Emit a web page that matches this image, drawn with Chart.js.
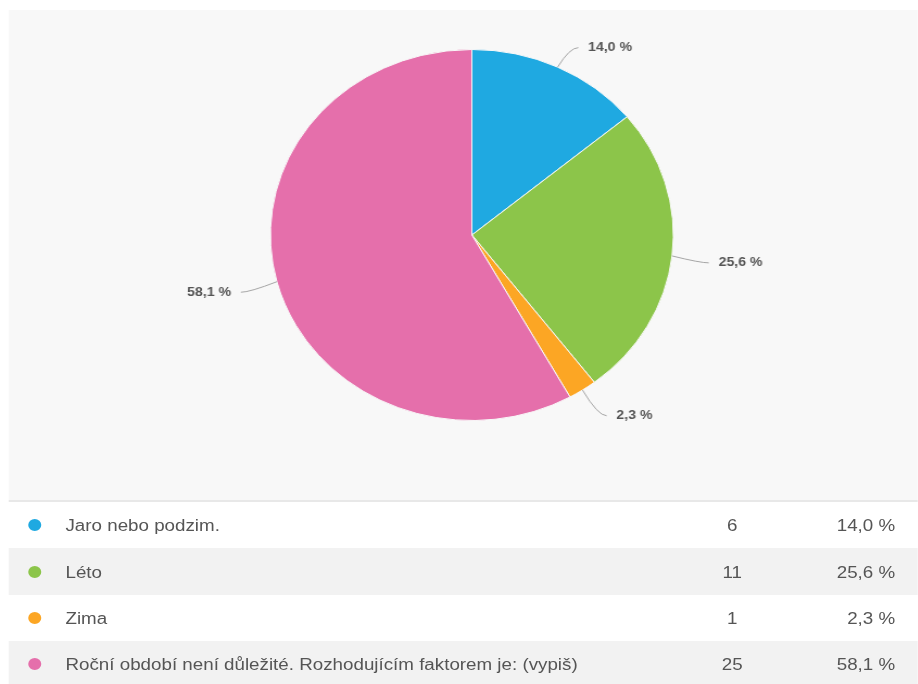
<!DOCTYPE html>
<html>
<head>
<meta charset="utf-8">
<script src="https://cdn.jsdelivr.net/npm/chart.js@4/dist/chart.umd.min.js"></script>
<style>
  html, body { margin: 0; padding: 0; background: #fff; overflow: hidden; }
  /* the whole survey block is drawn a bit wide */
  #stage { position: absolute; left: 0; top: 0; width: 846px; height: 684px;
           transform: scaleX(1.086); transform-origin: 0 0;
           font-family: "Liberation Sans", Arial, sans-serif; }
  #panel { position: absolute; left: 8.3px; top: 10px; width: 837px; height: 490px; background: #f8f8f8; }
  #rule { position: absolute; left: 8.3px; top: 500px; width: 837px; height: 2px; background: #e8e8e8; }
  .row { position: absolute; left: 8.3px; width: 837px; font-size: 17.3px; color: #555; }
  .row.alt { background: #f2f2f2; }
  .row span { position: absolute; top: 50%; transform: translateY(-50%); white-space: nowrap; }
  .dot { left: 18px; width: 12px; height: 12px; border-radius: 50%; }
  .name { left: 52px; }
  .count { left: 626px; width: 80px; text-align: center; }
  .pct { right: 21px; }
</style>
</head>
<body>
<div id="stage">
  <div id="panel"><canvas id="pie"></canvas></div>
  <div id="rule"></div>
  <div id="rows"></div>
</div>
<script>
const categories = ['Jaro nebo podzim.', 'Léto', 'Zima', 'Roční období není důležité. Rozhodujícím faktorem je: (vypiš)'];
const counts = [6, 11, 1, 25];
const shares = [14.0, 25.6, 2.3, 58.1];
const colors = ['#1fa9e1', '#8cc54a', '#fca624', '#e56fab'];

const fmt = v => v.toFixed(1).replace('.', ',') + '\u00a0%';

// answer table under the pie
const rowTops = [502, 548, 595, 641];
const rowsDiv = document.getElementById('rows');
categories.forEach((name, i) => {
  const row = document.createElement('div');
  row.className = 'row' + (i % 2 ? ' alt' : '');
  row.style.top = rowTops[i] + 'px';
  row.style.height = ((rowTops[i + 1] || 687) - rowTops[i]) + 'px';
  row.innerHTML =
    '<span class="dot" style="background:' + colors[i] + '"></span>' +
    '<span class="name"></span><span class="count"></span><span class="pct"></span>';
  row.querySelector('.name').textContent = name;
  row.querySelector('.count').textContent = counts[i];
  row.querySelector('.pct').textContent = fmt(shares[i]);
  rowsDiv.appendChild(row);
});

// percentage labels outside the slices with bent connector lines
const calloutLabels = {
  id: 'calloutLabels',
  afterDatasetsDraw(chart) {
    const ctx = chart.ctx;
    const meta = chart.getDatasetMeta(0);
    ctx.save();
    ctx.font = 'bold 13px "Liberation Sans", Arial, sans-serif';
    ctx.fillStyle = '#555';
    ctx.strokeStyle = '#a5a5a5';
    ctx.lineWidth = 1;
    ctx.textBaseline = 'middle';
    meta.data.forEach((arc, i) => {
      const { x, y, startAngle, endAngle, outerRadius } =
        arc.getProps(['x', 'y', 'startAngle', 'endAngle', 'outerRadius'], true);
      const mid = (startAngle + endAngle) / 2;
      const cos = Math.cos(mid), sin = Math.sin(mid);
      const dir = cos >= 0 ? 1 : -1;
      const sx = x + cos * outerRadius, sy = y + sin * outerRadius;
      const kx = x + cos * (outerRadius + 26), ky = y + sin * (outerRadius + 26) + 4;
      ctx.beginPath();
      ctx.moveTo(sx, sy);
      ctx.quadraticCurveTo(kx, ky, kx + dir * 8, ky);
      ctx.stroke();
      ctx.textAlign = dir > 0 ? 'left' : 'right';
      ctx.fillText(fmt(shares[i]), kx + dir * 17, ky);
    });
    ctx.restore();
  }
};

new Chart(document.getElementById('pie'), {
  type: 'pie',
  data: {
    labels: categories,
    datasets: [{
      data: shares,
      backgroundColor: colors,
      borderColor: '#f8f8f8',
      borderWidth: 1
    }]
  },
  options: {
    responsive: true,
    maintainAspectRatio: false,
    animation: false,
    layout: { padding: { top: 39, bottom: 79, left: 16, right: 0 } },
    plugins: {
      legend: { display: false },
      tooltip: { enabled: false }
    }
  },
  plugins: [calloutLabels]
});
</script>
</body>
</html>
